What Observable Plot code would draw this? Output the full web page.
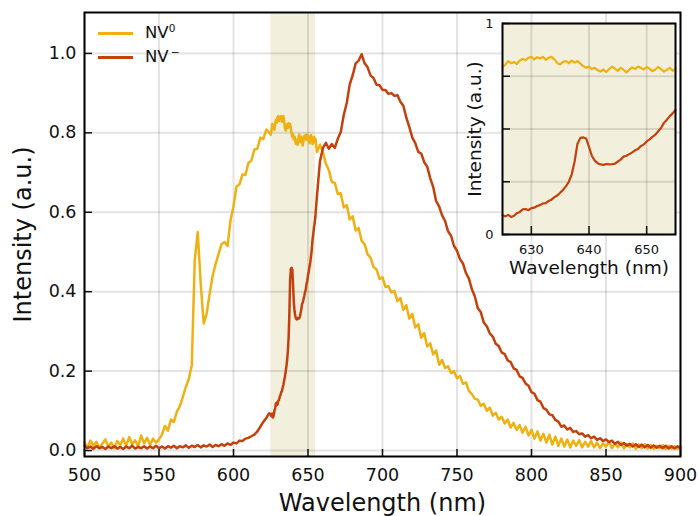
<!DOCTYPE html>
<html><head><meta charset="utf-8">
<script src="https://cdn.jsdelivr.net/npm/d3@7"></script>
<script src="https://cdn.jsdelivr.net/npm/@observablehq/plot@0.6"></script>
<style>
body{margin:0;background:#fff;font-family:"DejaVu Sans",sans-serif;}
#wrap{position:relative;width:699px;height:516px;overflow:hidden;}
#main{position:absolute;left:0;top:0;}
#inset{position:absolute;left:450px;top:13px;}
.lg{position:absolute;left:0;height:20px;width:200px;}
.sw{position:absolute;left:98px;top:8.5px;width:35px;height:3px;}
.lt{position:absolute;left:145px;top:0;line-height:20px;font-size:16.5px;color:#111;white-space:nowrap;}
.sup{font-size:10.5px;position:relative;top:-6.5px;}
</style></head><body>
<div id="wrap"><div id="main"></div><div id="inset"></div>
<div class="lg" style="top:23px"><span class="sw" style="background:#EEB111"></span><span class="lt">NV<span class="sup">0</span></span></div>
<div class="lg" style="top:47px"><span class="sw" style="background:#C4400C"></span><span class="lt">NV<span class="sup">&#8201;&#8722;</span></span></div>
</div>
<script>
// ---- data ----
const seriesNames = ["NV0", "NV-"];
const wavelengthMain = d3.range(500, 901, 2);          // nm, 2 nm step
const wavelengthInset = d3.range(0, 61).map(i => 625 + i * 0.5); // nm, 0.5 nm step
const bandRange = [625, 655];

const nv0Main = [
  0.020, 0.008, 0.025, 0.012, 0.022, 0.005, 0.018, 0.028, 0.010, 0.020,
  0.006, 0.024, 0.014, 0.030, 0.012, 0.034, 0.016, 0.026, 0.010, 0.038,
  0.018, 0.032, 0.014, 0.030, 0.020, 0.028, 0.040, 0.062, 0.050, 0.078,
  0.072, 0.098, 0.112, 0.135, 0.160, 0.180, 0.215, 0.480, 0.550, 0.420,
  0.320, 0.345, 0.395, 0.440, 0.470, 0.495, 0.520, 0.525, 0.515, 0.580,
  0.615, 0.665, 0.670, 0.695, 0.694, 0.724, 0.730, 0.758, 0.760, 0.788,
  0.784, 0.808, 0.800, 0.818, 0.826, 0.838, 0.842, 0.836, 0.818, 0.815,
  0.792, 0.780, 0.790, 0.776, 0.794, 0.792, 0.780, 0.770, 0.752, 0.770,
  0.752, 0.722, 0.706, 0.676, 0.674, 0.646, 0.648, 0.612, 0.618, 0.582,
  0.590, 0.554, 0.560, 0.528, 0.520, 0.494, 0.486, 0.462, 0.456, 0.432,
  0.436, 0.412, 0.414, 0.398, 0.402, 0.376, 0.384, 0.354, 0.366, 0.332,
  0.344, 0.310, 0.318, 0.284, 0.296, 0.262, 0.270, 0.242, 0.252, 0.216,
  0.228, 0.208, 0.212, 0.195, 0.200, 0.182, 0.188, 0.168, 0.172, 0.150,
  0.142, 0.130, 0.128, 0.112, 0.118, 0.100, 0.108, 0.088, 0.095, 0.078,
  0.085, 0.068, 0.078, 0.058, 0.070, 0.052, 0.064, 0.045, 0.060, 0.038,
  0.052, 0.030, 0.048, 0.025, 0.042, 0.020, 0.040, 0.015, 0.035, 0.012,
  0.030, 0.010, 0.028, 0.008, 0.025, 0.012, 0.026, 0.008, 0.022, 0.010,
  0.024, 0.008, 0.020, 0.006, 0.018, 0.010, 0.022, 0.006, 0.018, 0.008,
  0.020, 0.005, 0.016, 0.008, 0.018, 0.004, 0.015, 0.006, 0.016, 0.005,
  0.014, 0.004, 0.012, 0.006, 0.014, 0.004, 0.012, 0.005, 0.011, 0.004,
  0.010
];
const nvmMain = [
  0.012, 0.006, 0.010, 0.004, 0.011, 0.006, 0.009, 0.004, 0.010, 0.006,
  0.011, 0.005, 0.009, 0.004, 0.010, 0.006, 0.012, 0.005, 0.009, 0.006,
  0.011, 0.005, 0.010, 0.006, 0.012, 0.006, 0.010, 0.005, 0.011, 0.007,
  0.012, 0.006, 0.011, 0.008, 0.013, 0.007, 0.012, 0.009, 0.014, 0.008,
  0.013, 0.010, 0.015, 0.009, 0.014, 0.011, 0.016, 0.012, 0.018, 0.014,
  0.020, 0.018, 0.025, 0.024, 0.030, 0.032, 0.036, 0.040, 0.048, 0.060,
  0.072, 0.082, 0.094, 0.092, 0.110, 0.124, 0.146, 0.176, 0.228, 0.430,
  0.420, 0.332, 0.333, 0.368, 0.398, 0.440, 0.488, 0.560, 0.640, 0.728,
  0.762, 0.775, 0.760, 0.772, 0.762, 0.785, 0.802, 0.845, 0.875, 0.922,
  0.945, 0.975, 0.982, 0.998, 0.975, 0.965, 0.944, 0.938, 0.921, 0.920,
  0.908, 0.908, 0.898, 0.900, 0.893, 0.895, 0.878, 0.868, 0.838, 0.815,
  0.788, 0.774, 0.752, 0.748, 0.726, 0.715, 0.686, 0.664, 0.628, 0.615,
  0.592, 0.578, 0.552, 0.541, 0.515, 0.503, 0.482, 0.471, 0.447, 0.433,
  0.406, 0.388, 0.358, 0.348, 0.322, 0.313, 0.295, 0.287, 0.269, 0.263,
  0.247, 0.243, 0.227, 0.223, 0.207, 0.203, 0.187, 0.183, 0.169, 0.163,
  0.147, 0.143, 0.127, 0.123, 0.107, 0.103, 0.091, 0.089, 0.077, 0.073,
  0.060, 0.063, 0.053, 0.057, 0.047, 0.049, 0.041, 0.043, 0.035, 0.039,
  0.031, 0.035, 0.027, 0.031, 0.024, 0.028, 0.021, 0.025, 0.017, 0.022,
  0.014, 0.019, 0.012, 0.017, 0.010, 0.016, 0.009, 0.015, 0.008, 0.014,
  0.007, 0.013, 0.007, 0.012, 0.006, 0.012, 0.005, 0.011, 0.005, 0.011,
  0.006
];
const nv0Inset = [
  0.795, 0.805, 0.822, 0.812, 0.818, 0.808, 0.825, 0.832, 0.826, 0.838,
  0.842, 0.830, 0.840, 0.834, 0.842, 0.828, 0.838, 0.842, 0.830, 0.812,
  0.806, 0.818, 0.822, 0.812, 0.824, 0.815, 0.822, 0.810, 0.798, 0.790,
  0.796, 0.784, 0.790, 0.778, 0.772, 0.782, 0.770, 0.784, 0.796, 0.786,
  0.776, 0.790, 0.780, 0.768, 0.782, 0.792, 0.784, 0.796, 0.790, 0.782,
  0.794, 0.786, 0.774, 0.782, 0.794, 0.784, 0.772, 0.780, 0.790, 0.776,
  0.785
];
const nvmInset = [
  0.090, 0.086, 0.093, 0.083, 0.089, 0.101, 0.107, 0.119, 0.121, 0.115,
  0.125, 0.127, 0.135, 0.139, 0.147, 0.149, 0.159, 0.165, 0.177, 0.185,
  0.198, 0.212, 0.228, 0.250, 0.285, 0.345, 0.430, 0.458, 0.460, 0.455,
  0.415, 0.372, 0.350, 0.338, 0.332, 0.330, 0.334, 0.332, 0.333, 0.336,
  0.346, 0.355, 0.369, 0.373, 0.381, 0.389, 0.399, 0.405, 0.419, 0.427,
  0.441, 0.451, 0.463, 0.473, 0.489, 0.505, 0.529, 0.544, 0.561, 0.574,
  0.590
];
const xTicksMain = [500, 550, 600, 650, 700, 750, 800, 850, 900];
const yTicksMain = [0, 0.2, 0.4, 0.6, 0.8, 1.0];
const xTicksInset = [630, 640, 650];
const yTicksInset = [0, 0.25, 0.5, 0.75, 1];
const yLabelsInset = [0, 1];

// ---- styles ----
const YELLOW = "#EEB111", RED = "#C4400C", BAND = "#F2EFDC";
const FONT = "DejaVu Sans";

function combine(coarse, dense) {
  const pts = wavelengthMain.map((w, i) => ({wl: w, v: coarse[i]}))
    .filter(d => d.wl < bandRange[0] || d.wl > bandRange[1]);
  wavelengthInset.forEach((w, i) => pts.push({wl: w, v: dense[i]}));
  return pts.sort((a, b) => a.wl - b.wl);
}
const mainNV0 = combine(nv0Main, nv0Inset);
const mainNVm = combine(nvmMain, nvmInset);
const insetNV0 = wavelengthInset.map((w, i) => ({wl: w, v: nv0Inset[i]}));
const insetNVm = wavelengthInset.map((w, i) => ({wl: w, v: nvmInset[i]}));

const gridStyle = {stroke: "#000", strokeOpacity: 0.11, strokeWidth: 2};

const mainPlot = Plot.plot({
  width: 699, height: 516,
  marginLeft: 84, marginRight: 19, marginTop: 12, marginBottom: 60,
  style: {fontFamily: FONT, fontSize: "17.5px", background: "transparent", color: "#111"},
  x: {domain: [500, 900]},
  y: {domain: [-0.015, 1.103]},
  marks: [
    Plot.rect([{x1: bandRange[0], x2: bandRange[1]}], {x1: "x1", x2: "x2", fill: BAND}),
    Plot.gridX({ticks: xTicksMain, ...gridStyle}),
    Plot.gridY({ticks: yTicksMain, ...gridStyle}),
    Plot.line(mainNV0, {x: "wl", y: "v", stroke: YELLOW, strokeWidth: 2.5}),
    Plot.line(mainNVm, {x: "wl", y: "v", stroke: RED, strokeWidth: 2.5}),
    Plot.axisX({ticks: xTicksMain, tickSize: 0, tickPadding: 12, tickFormat: d => String(d), label: null}),
    Plot.axisX({ticks: xTicksMain, tickSize: -7, tickFormat: () => "", label: null, strokeWidth: 1.5}),
    Plot.axisY({ticks: yTicksMain, tickSize: 0, tickPadding: 8, tickFormat: d3.format(".1f"), label: null}),
    Plot.axisY({ticks: yTicksMain, tickSize: -8, tickFormat: () => "", label: null, strokeWidth: 1.5}),
    Plot.text(["Wavelength (nm)"], {text: d => d, frameAnchor: "bottom", dy: 47, lineAnchor: "middle", textAnchor: "middle", fontSize: 24}),
    Plot.text(["Intensity (a.u.)"], {text: d => d, frameAnchor: "left", dx: -61, rotate: -90, lineAnchor: "middle", textAnchor: "middle", fontSize: 24}),
    Plot.frame({stroke: "#000", strokeWidth: 2})
  ]
});
document.getElementById("main").appendChild(mainPlot);

const insetPlot = Plot.plot({
  width: 235, height: 275,
  marginLeft: 52, marginRight: 10, marginTop: 10, marginBottom: 54,
  style: {fontFamily: FONT, fontSize: "13px", background: "transparent", color: "#111"},
  x: {domain: [625, 655]},
  y: {domain: [0, 1]},
  marks: [
    Plot.frame({fill: BAND}),
    Plot.gridX({ticks: xTicksInset, ...gridStyle}),
    Plot.gridY({ticks: yTicksInset, ...gridStyle}),
    Plot.line(insetNV0, {x: "wl", y: "v", stroke: YELLOW, strokeWidth: 2.2}),
    Plot.line(insetNVm, {x: "wl", y: "v", stroke: RED, strokeWidth: 2.2}),
    Plot.axisX({ticks: xTicksInset, tickSize: 0, tickPadding: 10, tickFormat: d => String(d), label: null}),
    Plot.axisX({ticks: xTicksInset, tickSize: -8, tickFormat: () => "", label: null, strokeWidth: 1.5}),
    Plot.axisY({ticks: yLabelsInset, tickSize: 0, tickPadding: 9, tickFormat: d => String(d), label: null}),
    Plot.axisY({ticks: yTicksInset, tickSize: -8, tickFormat: () => "", label: null, strokeWidth: 1.5}),
    Plot.text(["Wavelength (nm)"], {text: d => d, frameAnchor: "bottom", dy: 34, lineAnchor: "middle", textAnchor: "middle", fontSize: 18.5}),
    Plot.text(["Intensity (a.u.)"], {text: d => d, frameAnchor: "left", dx: -27, rotate: -90, lineAnchor: "middle", textAnchor: "middle", fontSize: 18.5}),
    Plot.frame({stroke: "#000", strokeWidth: 2})
  ]
});
document.getElementById("inset").appendChild(insetPlot);
</script>
</body></html>
